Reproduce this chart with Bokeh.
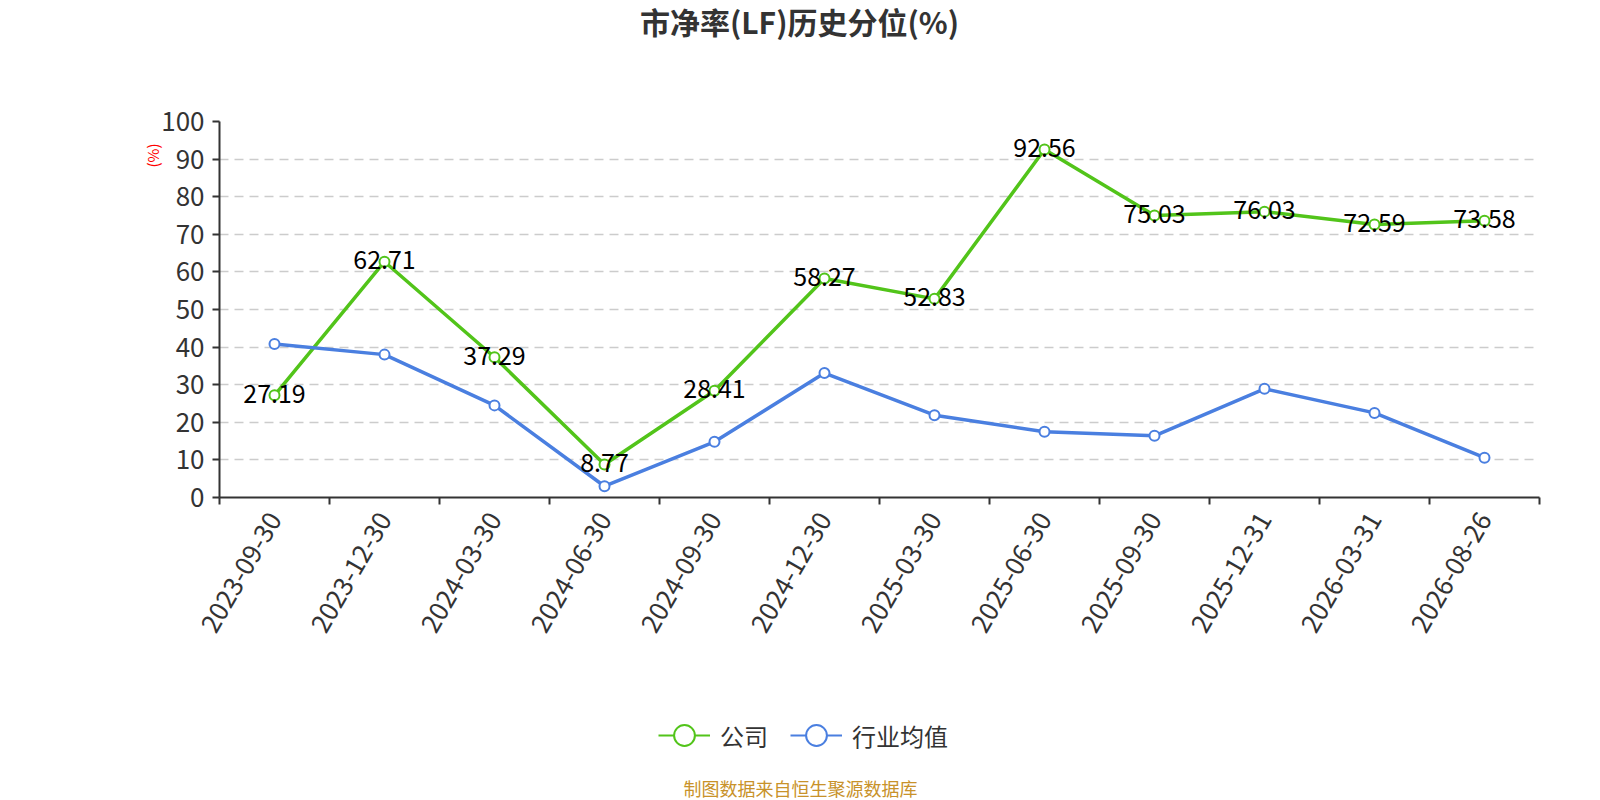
import math
from bokeh.plotting import figure
from bokeh.layouts import column
from bokeh.models import ColumnDataSource, FixedTicker, Range1d, Legend, LegendItem, Title, Label
from bokeh.core.properties import value
from bokeh.embed import file_html
from bokeh.resources import INLINE

dates = ["2023-09-30", "2023-12-30", "2024-03-30", "2024-06-30", "2024-09-30", "2024-12-30",
         "2025-03-30", "2025-06-30", "2025-09-30", "2025-12-31", "2026-03-31", "2026-08-26"]
company = [27.19, 62.71, 37.29, 8.77, 28.41, 58.27, 52.83, 92.56, 75.03, 76.03, 72.59, 73.58]
industry = [40.8, 38.0, 24.5, 3.0, 14.8, 33.1, 21.9, 17.5, 16.4, 28.9, 22.5, 10.6]
y_ticks = [0, 10, 20, 30, 40, 50, 60, 70, 80, 90, 100]
series_names = ["公司", "行业均值"]
title_text = "市净率(LF)历史分位(%)"
footer_text = "制图数据来自恒生聚源数据库"

FONT = "Noto Sans CJK SC"
GREEN = "#52c41a"
BLUE = "#4a7fe0"
W = 1600
FRAME_LEFT = 219  # column aligns all frames to the main chart's frame


def blank_fig(h):
    f = figure(width=W, height=h, output_backend="svg", toolbar_location=None,
               x_axis_type=None, y_axis_type=None, x_range=Range1d(0, 1), y_range=Range1d(-2, -1),
               min_border=0)
    f.outline_line_color = None
    f.grid.grid_line_color = None
    f.background_fill_color = "white"
    f.border_fill_color = "white"
    return f


# ---- top: title ----
top = blank_fig(101)
top.add_layout(Label(x=799 - FRAME_LEFT, y=81, x_units="screen", y_units="screen", text=title_text,
                     text_font=FONT, text_font_size="30px", text_font_style="bold",
                     text_color="#333333", text_align="center", text_baseline="middle"))

# ---- main chart ----
xs = [i + 0.5 for i in range(len(dates))]
src = ColumnDataSource(dict(x=xs, company=company, industry=industry,
                            clabel=["%.2f" % v for v in company]))

p = figure(width=W, height=560, output_backend="svg", toolbar_location=None,
           x_range=Range1d(0, len(dates)), y_range=Range1d(0, 100),
           min_border_left=FRAME_LEFT, min_border_right=61, min_border_top=20, min_border_bottom=164)
p.outline_line_color = None
p.background_fill_color = "white"
p.border_fill_color = "white"

p.xaxis.ticker = FixedTicker(ticks=xs, minor_ticks=list(range(len(dates) + 1)))
p.xaxis.major_label_overrides = {x: d for x, d in zip(xs, dates)}
p.xaxis.major_label_orientation = math.pi / 3
p.xaxis.major_tick_out = 0
p.xaxis.major_tick_in = 0
p.xaxis.minor_tick_out = 7
p.xaxis.minor_tick_in = 0
p.xaxis.minor_tick_line_color = "#333333"
p.xaxis.minor_tick_line_width = 2
p.xaxis.major_label_standoff = 10

p.yaxis.ticker = FixedTicker(ticks=y_ticks, minor_ticks=[])
p.yaxis.major_tick_out = 7
p.yaxis.major_tick_in = 0
p.yaxis.major_tick_line_width = 2
p.yaxis.major_tick_line_color = "#333333"
p.yaxis.major_label_standoff = 8

for ax in (p.xaxis, p.yaxis):
    ax.axis_line_color = "#333333"
    ax.axis_line_width = 2
    ax.major_label_text_font = FONT
    ax.major_label_text_font_size = "26px"
    ax.major_label_text_color = "#333333"

p.xgrid.grid_line_color = None
p.ygrid.grid_line_color = "#cccccc"
p.ygrid.grid_line_width = 1.5
p.ygrid.grid_line_dash = "9 6"

p.add_layout(Title(text="(%)", align="right", offset=22, standoff=-9, text_font=FONT,
                   text_font_size="15px", text_font_style="normal", text_color="red"), "left")

p.line("x", "company", source=src, line_color=GREEN, line_width=3.5)
p.scatter("x", "company", source=src, size=10, fill_color="white", line_color=GREEN, line_width=2)
p.line("x", "industry", source=src, line_color=BLUE, line_width=3.5)
p.scatter("x", "industry", source=src, size=10, fill_color="white", line_color=BLUE, line_width=2)

p.text("x", "company", text="clabel", source=src, text_font=value(FONT), text_font_size="25px",
       text_color="black", text_align="center", text_baseline="middle", y_offset=-2)

# ---- bottom: legend + footer ----
bot = blank_fig(139)
items = []
for name, field, col in zip(series_names, ["company", "industry"], [GREEN, BLUE]):
    # same data as the chart; this panel's ranges keep them out of view, only the legend shows
    lr = bot.line("x", field, source=src, line_color=col, line_width=2)
    sr = bot.scatter("x", field, source=src, size=10, fill_color="white", line_color=col, line_width=2)
    items.append(LegendItem(label=name, renderers=[lr, sr]))
legend = Legend(items=items, orientation="horizontal", location=(658 - FRAME_LEFT, 36),
                glyph_width=52, glyph_height=58, label_standoff=10, spacing=22,
                padding=0, margin=0, border_line_color=None, background_fill_alpha=0,
                label_text_font=FONT, label_text_font_size="24px", label_text_color="#333333")
bot.add_layout(legend)
bot.add_layout(Label(x=800 - FRAME_LEFT, y=13, x_units="screen", y_units="screen", text=footer_text,
                     text_font=FONT, text_font_size="18px", text_color="#c8922a",
                     text_align="center", text_baseline="middle"))

layout = column(top, p, bot, spacing=0)
open("out.html", "w").write(file_html(layout, INLINE))
